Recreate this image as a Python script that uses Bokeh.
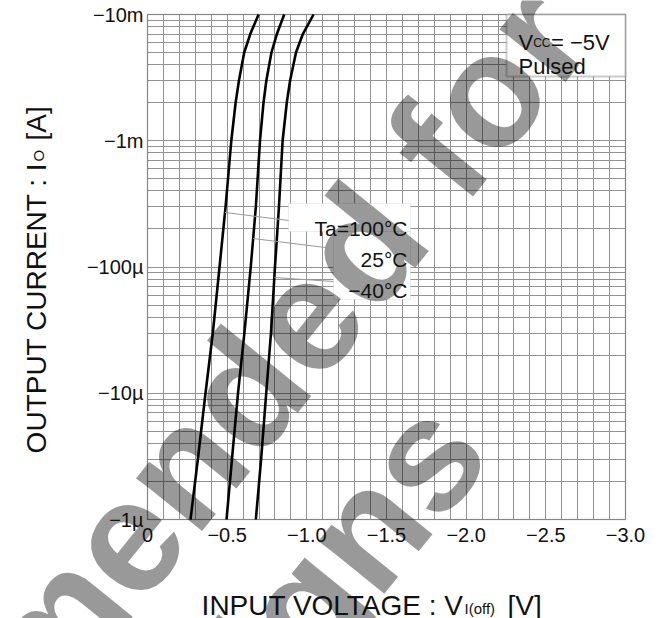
import numpy as np
from bokeh.plotting import figure
from bokeh.models import (Range1d, FixedTicker, Label, BoxAnnotation, LinearAxis,
                          LogAxis, Grid)
from bokeh.embed import file_html
from bokeh.resources import INLINE

# ---------------- data ----------------
current_A = [1e-6, 3e-6, 1e-5, 3e-5, 1e-4, 3e-4, 1e-3, 2e-3, 3e-3, 5e-3, 7e-3, 1e-2]
v_ta100 = [0.270, 0.316, 0.364, 0.410, 0.452, 0.490, 0.526, 0.553, 0.574, 0.607, 0.645, 0.697]
v_ta25 = [0.496, 0.530, 0.568, 0.608, 0.648, 0.680, 0.706, 0.728, 0.746, 0.778, 0.812, 0.858]
v_tam40 = [0.680, 0.713, 0.745, 0.775, 0.800, 0.825, 0.848, 0.874, 0.895, 0.932, 0.975, 1.042]
series_labels = ["Ta=100°C", "25°C", "−40°C"]

x_tick_values = [0, 0.5, 1.0, 1.5, 2.0, 2.5, 3.0]
x_tick_labels = ["0", "−0.5", "−1.0", "−1.5", "−2.0", "−2.5", "−3.0"]
x_minor_values = [i / 10 for i in range(31)]
y_tick_values = [1e-6, 1e-5, 1e-4, 1e-3, 1e-2]
y_tick_labels = ["−1µ", "−10µ", "−100µ", "−1m", "−10m"]
y_minor_values = [m * 10.0 ** e for e in range(-6, -2) for m in range(2, 10)]

X_MIN, X_MAX = 0.0, 3.0
Y_MIN, Y_MAX = 1e-6, 1e-2

# ---------------- layout (page pixels) ----------------
W, H = 661, 618
CL, CR, CT, CB = 147, 625, 14, 519     # chart box edges
FONT = "Liberation Sans"
GRID = "#929292"
PXV = (CR - CL) / (X_MAX - X_MIN)
PXD = (CB - CT) / 4.0


def dx(px):
    return X_MIN + (px - CL) / PXV


def dy(py):
    return 10 ** (np.log10(Y_MAX) - (py - CT) / PXD)


p = figure(width=W, height=H, x_range=Range1d(dx(0), dx(W)),
           y_range=Range1d(dy(H), dy(0)), y_axis_type="log",
           x_axis_location=None, y_axis_location=None,
           output_backend="svg", toolbar_location=None,
           min_border=0, min_border_left=0, min_border_right=0,
           min_border_top=0, min_border_bottom=0,
           background_fill_color="white", border_fill_color="white")
p.outline_line_color = None

# ---------------- grid limited to the chart box ----------------
has_cross = "cross_bounds" in Grid.properties()
p.xgrid.ticker = FixedTicker(ticks=x_tick_values, minor_ticks=x_minor_values)
p.ygrid.ticker = FixedTicker(ticks=y_tick_values, minor_ticks=y_minor_values)
if has_cross:
    p.xgrid.bounds = (X_MIN, X_MAX)
    p.xgrid.cross_bounds = (Y_MIN, Y_MAX)
    p.ygrid.bounds = (Y_MIN, Y_MAX)
    p.ygrid.cross_bounds = (X_MIN, X_MAX)
    for g in (p.xgrid, p.ygrid):
        g.grid_line_color = GRID
        g.grid_line_width = 1
        g.minor_grid_line_color = GRID
        g.minor_grid_line_width = 1
else:
    for g in (p.xgrid, p.ygrid):
        g.visible = False
    p.segment(x_minor_values, [Y_MIN] * len(x_minor_values), x_minor_values,
              [Y_MAX] * len(x_minor_values), line_color=GRID, line_width=1)
    ys_all = sorted(y_tick_values + y_minor_values)
    p.segment([X_MIN] * len(ys_all), ys_all, [X_MAX] * len(ys_all), ys_all,
              line_color=GRID, line_width=1)

# ---------------- axes at the chart box edges ----------------
xaxis = LinearAxis(fixed_location=Y_MIN, bounds=(X_MIN, X_MAX),
                   ticker=FixedTicker(ticks=x_tick_values))
yaxis = LogAxis(fixed_location=X_MIN, bounds=(Y_MIN, Y_MAX),
                ticker=FixedTicker(ticks=y_tick_values))
xaxis.major_label_overrides = dict(zip(x_tick_values, x_tick_labels))
yaxis.major_label_overrides = dict(zip(y_tick_values, y_tick_labels))
for ax in (xaxis, yaxis):
    ax.axis_line_color = None
    ax.major_tick_line_color = None
    ax.minor_tick_line_color = None
    ax.major_tick_out = 0
    ax.major_tick_in = 0
    ax.minor_tick_out = 0
    ax.major_label_text_font = FONT
    ax.major_label_text_font_size = "20px"
    ax.major_label_text_color = "#111111"
xaxis.major_label_standoff = 8
yaxis.major_label_standoff = 4
p.add_layout(xaxis, "below")
p.add_layout(yaxis, "left")

# ---------------- boxes (beneath watermark) ----------------
frame_box = BoxAnnotation(left=X_MIN, right=X_MAX, top=Y_MAX, bottom=Y_MIN,
                          fill_alpha=0, line_color="#666666", line_width=1.5,
                          level="underlay")
leg_box1 = BoxAnnotation(left=dx(288), right=dx(410), top=dy(203), bottom=dy(231),
                         fill_color="white", fill_alpha=1, line_color="#c4c4c4",
                         line_width=1, level="underlay")
leg_box2 = BoxAnnotation(left=dx(333), right=dx(410), top=dy(231), bottom=dy(299),
                         fill_color="white", fill_alpha=1, line_color="#c4c4c4",
                         line_width=1, level="underlay")
vcc_box = BoxAnnotation(left=dx(506), right=X_MAX, top=Y_MAX, bottom=dy(76),
                        fill_color="white", fill_alpha=1, line_color="#555555",
                        line_width=2, level="underlay")
for b in (frame_box, leg_box1, leg_box2, vcc_box):
    p.add_layout(b)

# ---------------- watermark ----------------
WM_ANGLE = np.deg2rad(51)
for txt, (px, py) in (("Not recommended for", (31, 653)), ("new designs", (149, 795))):
    p.add_layout(Label(x=dx(px), y=dy(py), text=txt, text_font=FONT,
                       text_font_style="bold", text_font_size="160px",
                       text_align="center", text_baseline="alphabetic",
                       angle=WM_ANGLE, angle_units="rad",
                       text_color="black", text_alpha=0.4, level="underlay"))

# ---------------- curves ----------------
for v in (v_ta100, v_ta25, v_tam40):
    p.line(v, current_A, line_color="black", line_width=2.6, line_join="round")

# leader lines from curves to the labels
log_i = np.log10(current_A)
lead_page_y = [212, 238, 277]
lead_end = [(288, 220), (333, 248), (333, 281)]
x0, y0, x1, y1 = [], [], [], []
for v, sy, (ex, ey) in zip((v_ta100, v_ta25, v_tam40), lead_page_y, lead_end):
    yy = dy(sy)
    x0.append(float(np.interp(np.log10(yy), log_i, v)))
    y0.append(yy)
    x1.append(dx(ex))
    y1.append(dy(ey))
p.segment(x0, y0, x1, y1, line_color="#9a9a9a", line_width=1)


def lab(txt, px, py, size, align="left", angle=0.0):
    p.add_layout(Label(x=dx(px), y=dy(py), text=txt, text_font=FONT,
                       text_font_size=f"{size}px", text_align=align,
                       text_baseline="alphabetic", text_color="#111111",
                       angle=angle, angle_units="rad"))


# ---------------- legend texts ----------------
for txt, by in zip(series_labels, (228, 259, 290)):
    lab(txt, 407, by, 21, align="right")

# Vcc box text
lab("V", 518, 42, 22)
lab("CC", 518 + 0.667 * 22, 42, 12)
lab("= −5V", 518 + 0.667 * 22 + 1.444 * 12 + 0.5, 42, 22)
lab("Pulsed", 518, 66, 22)

# ---------------- axis titles ----------------
lab("INPUT VOLTAGE : V", 463, 605, 28, align="right")
lab("I(off)", 464, 608, 15)
lab("[V]", 507, 605, 28)

lab("OUTPUT CURRENT : I", 36, 162, 28, align="right", angle=np.pi / 2)
lab("O", 38, 161, 15, angle=np.pi / 2)
lab("[A]", 36, 140, 28, angle=np.pi / 2)

open("out.html", "w").write(file_html(p, INLINE))
